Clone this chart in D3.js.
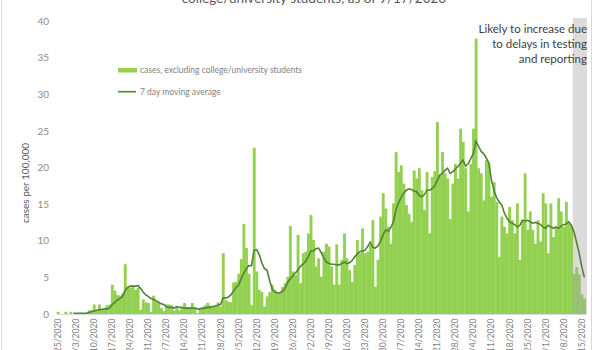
<!DOCTYPE html>
<html><head><meta charset="utf-8">
<script src="https://cdn.jsdelivr.net/npm/d3@7"></script>
<style>
body{margin:0;background:#fff}
svg{display:block;font-family:Lato,"Open Sans",sans-serif}
</style>
</head><body><svg id="c" width="600" height="350"></svg>
<script>
// ---- data ----
const startDate = "2020-02-25";
const endDate = "2020-09-16";
const cases = [
0.3,0,0,0.3,0,0.3,0,0,0.1,0,
0.1,0.1,0.5,0.5,1.3,0.5,1.3,0.5,0.6,1.2,
1.3,4.0,3.2,2.6,2.5,2.8,6.8,3.8,3.6,3.8,
3.3,3.6,0.6,2.0,1.6,1.5,0.3,2.5,1.7,1.5,
0.8,0.4,1.3,1.3,1.2,0.5,0.9,0.5,0.9,1.5,
0.9,0.9,1.5,0.9,0.1,0.8,0.8,1.2,1.5,1.2,
0.9,1.2,1.6,1.0,8.3,1.9,1.7,1.6,4.3,4.4,
5.5,7.5,12.3,9.0,5.5,1.2,22.7,5.8,3.3,3.0,
1.0,2.4,3.0,4.0,3.3,3.0,2.9,3.7,4.2,5.1,
12.0,5.8,5.3,10.8,4.2,8.3,8.5,11.0,13.5,10.1,
6.5,7.6,5.1,8.5,9.6,9.2,6.5,4.0,9.5,4.0,
7.4,11.0,7.6,6.0,4.4,6.7,10.1,8.3,11.7,8.3,
8.5,9.4,12.8,3.7,7.4,13.3,16.5,14.4,11.9,9.6,
15.1,22.1,19.4,20.3,17.8,14.9,13.7,12.6,19.6,18.5,
19.9,16.9,14.2,19.4,11.0,18.7,19.5,26.2,19.0,22.1,
19.2,18.5,13.0,17.8,20.5,18.5,25.3,23.5,19.9,14.0,
20.5,25.3,37.6,19.9,19.2,15.5,21.0,20.5,16.0,18.0,
15.3,7.8,13.3,11.9,11.0,14.6,12.8,11.0,15.1,7.4,
12.8,19.2,11.5,14.0,11.5,9.6,12.8,9.9,16.5,15.1,
8.3,15.1,10.5,11.9,15.8,14.0,11.9,15.3,12.4,12.0,
5.5,6.4,5.4,2.7,2.1
];
// 7 day moving average, first value on 3/2/2020
const movingAvgStart = "2020-03-02";
const movingAvg = [
0.1,0.1,0.1,0.1,0.1,0.1,0.2,0.3,0.4,0.5,
0.6,0.6,0.7,0.7,0.8,1.3,1.6,1.9,2.1,2.4,
3.2,3.6,3.8,3.8,3.8,3.9,3.5,3.0,2.6,2.4,
2.1,2.0,1.8,1.6,1.4,1.3,1.0,0.9,0.9,0.8,
1.0,0.9,0.9,0.8,0.8,0.8,0.8,0.8,0.7,0.7,
0.8,0.8,0.9,0.9,1.0,1.1,1.2,1.3,2.2,2.2,
2.3,2.6,3.1,3.6,4.0,4.8,5.6,6.2,6.6,6.6,
8.7,8.8,8.1,7.0,6.2,6.0,4.6,3.4,3.0,2.9,
2.9,3.1,3.5,4.3,4.8,5.2,5.6,6.0,6.5,6.8,
7.2,7.8,8.6,8.6,8.9,9.0,8.4,7.7,7.1,6.9,
6.8,6.8,6.7,6.7,6.9,7.1,6.9,7.0,7.3,7.8,
8.2,8.5,8.6,8.7,9.2,9.8,9.1,9.0,9.3,9.9,
10.8,11.5,11.3,11.8,12.6,14.2,15.2,15.9,16.5,16.9,
17.1,17.0,16.8,16.7,16.2,16.0,16.3,16.9,16.9,17.1,
17.5,18.2,19.0,19.2,19.6,19.9,19.2,19.4,19.8,20.1,
20.6,21.0,20.2,20.5,21.2,21.9,23.6,22.9,22.2,21.9,
21.3,20.6,18.3,16.9,15.9,15.3,14.9,13.8,13.1,12.6,
12.4,12.2,11.9,12.1,12.8,12.7,12.8,12.6,12.4,12.5,
12.4,12.2,11.9,11.7,12.1,11.9,11.7,11.9,11.7,12.0,
12.2,12.3,12.6,12.1,11.2,9.8,8.3,6.5,5.0
];
const tickLabels = ["2/25/2020","3/3/2020","3/10/2020","3/17/2020","3/24/2020","3/31/2020",
"4/7/2020","4/14/2020","4/21/2020","4/28/2020","5/5/2020","5/12/2020","5/19/2020","5/26/2020",
"6/2/2020","6/9/2020","6/16/2020","6/23/2020","6/30/2020","7/7/2020","7/14/2020","7/21/2020",
"7/28/2020","8/4/2020","8/11/2020","8/18/2020","8/25/2020","9/1/2020","9/8/2020","9/15/2020"];
const yTicks = [0,5,10,15,20,25,30,35,40];
const titleLine = "college/university students, as of 9/17/2020";
const yTitle = "cases per 100,000";
const legendLabels = ["cases, excluding college/university students","7 day moving average"];
const noteLines = ["Likely to increase due","to delays in testing","and reporting"];
const shadedFrom = "9/12/2020";

// ---- chart ----
const svg = d3.select("#c");
const parse = d3.timeParse("%Y-%m-%d");
const fmt = d3.timeFormat("%-m/%-d/%Y");
const days = d3.timeDay.range(parse(startDate), d3.timeDay.offset(parse(endDate), 1)).map(fmt);
const maStart = days.indexOf(fmt(parse(movingAvgStart)));

const x = d3.scaleBand().domain(days).range([56.7, 585.6]).padding(0);
const y = d3.scaleLinear().domain([0, 40]).range([314, 21]);
const bw = x.bandwidth();

// frame
svg.append("rect").attr("x",1.5).attr("y",-5).attr("width",590).attr("height",370)
  .attr("fill","none").attr("stroke","#d9d9d9");

// title (second line visible)
svg.append("text").attr("x",314).attr("y",3).attr("text-anchor","middle")
  .attr("font-size",13.5).attr("fill","#595959").text(titleLine);

// bars
svg.append("g").selectAll("rect").data(cases).join("rect")
  .attr("x",(d,i)=>x(days[i])).attr("width",bw+0.3)
  .attr("y",d=>y(d)).attr("height",d=>y(0)-y(d))
  .attr("fill","#92d050");

// shaded region
svg.append("rect").attr("x",x(shadedFrom)).attr("y",18)
  .attr("width",587-x(shadedFrom)).attr("height",y(0)-18)
  .attr("fill","#a6a6a6").attr("opacity",0.4);

// moving average line
const line = d3.line().x((d,k)=>x(days[maStart+k])+bw/2).y(d=>y(d));
svg.append("path").datum(movingAvg).attr("d",line)
  .attr("fill","none").attr("stroke","#548235").attr("stroke-width",1.6);

// x axis
const xAxis = svg.append("g").attr("transform",`translate(0,${y(0)})`)
  .call(d3.axisBottom(x).tickValues(tickLabels).tickSize(0));
xAxis.select(".domain").attr("stroke","#d9d9d9");
xAxis.selectAll("text").attr("transform","rotate(-90)")
  .attr("x",-4.5).attr("y",0).attr("dy","0.35em").attr("text-anchor","end")
  .attr("font-size",8.6).attr("fill","#7f7f7f").attr("font-family","Lato");

// y axis
const yAxis = svg.append("g").attr("transform","translate(52,0)")
  .call(d3.axisLeft(y).tickValues(yTicks).tickSize(0));
yAxis.select(".domain").remove();
yAxis.selectAll("text").attr("x",-3).attr("font-size",10).attr("fill","#8c8c8c").attr("font-family","Lato");

// y title
svg.append("text").attr("transform","translate(28.5,183) rotate(-90)").attr("text-anchor","middle")
  .attr("font-size",10).attr("fill","#595959").text(yTitle);

// legend
svg.append("rect").attr("x",118).attr("y",68).attr("width",19).attr("height",4.5).attr("fill","#92d050");
svg.append("text").attr("x",140).attr("y",73).attr("font-size",8.5).attr("fill","#7f7f7f").text(legendLabels[0]);
svg.append("line").attr("x1",118).attr("x2",136).attr("y1",91.7).attr("y2",91.7)
  .attr("stroke","#548235").attr("stroke-width",1.6);
svg.append("text").attr("x",140).attr("y",95).attr("font-size",8.5).attr("fill","#7f7f7f").text(legendLabels[1]);

// note
svg.append("g").selectAll("text").data(noteLines).join("text")
  .attr("x",587).attr("y",(d,i)=>33+i*15).attr("text-anchor","end")
  .attr("font-size",11.5).attr("fill","#404040").text(d=>d);
</script>
</body></html>
